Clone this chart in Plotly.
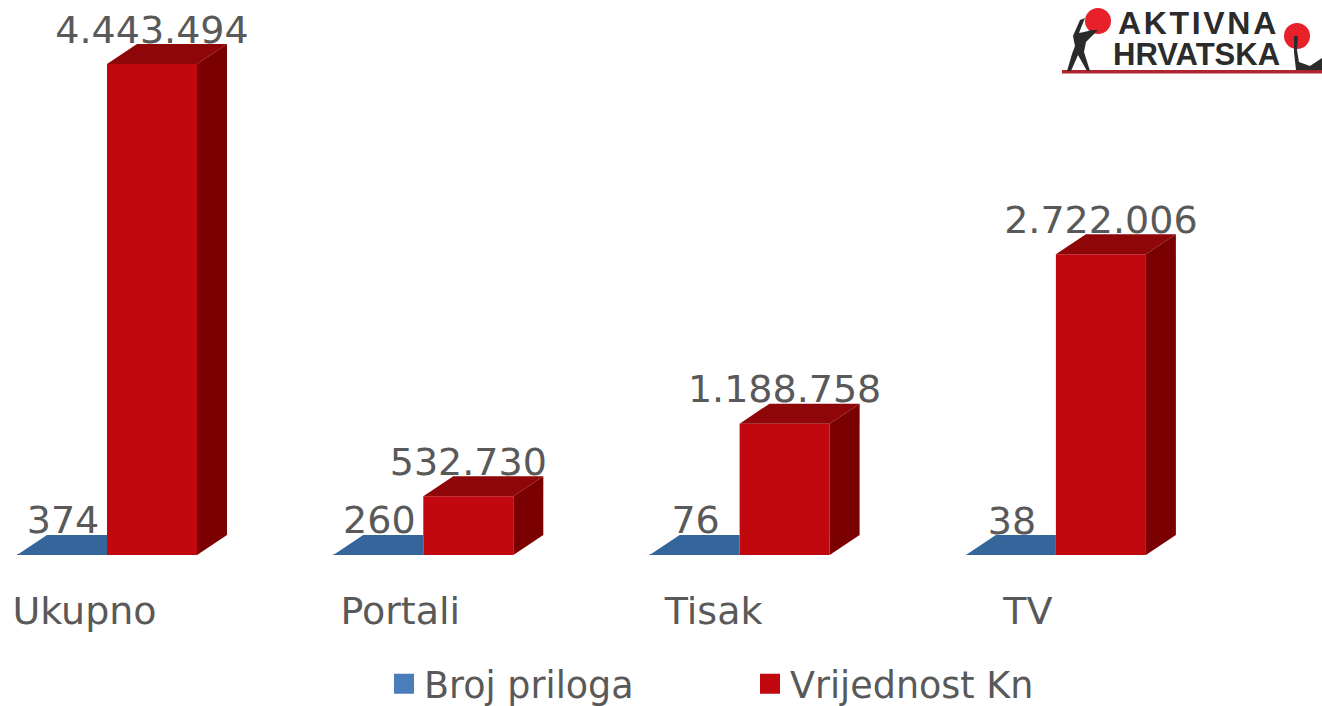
import plotly.graph_objects as go

# ---- data ----
categories = ["Ukupno", "Portali", "Tisak", "TV"]
broj_priloga = [374, 260, 76, 38]
vrijednost_kn = [4443494, 532730, 1188758, 2722006]
broj_labels = ["374", "260", "76", "38"]
vrijednost_labels = ["4.443.494", "532.730", "1.188.758", "2.722.006"]
series_names = ["Broj priloga", "Vrijednost Kn"]

# ---- geometry / style ----
W, H = 1322, 706
BASE_PX = 555
PX_PER_CAT = 316.3
FIRST_PX = 107
PX_PER_UNIT = 110.5 / 1e6
BAR_PX = 90
DEPTH_X_PX, DEPTH_Y_PX = 30, 20
LABEL_PX = 31
TICK_SHIFT_PX = [-22.5, -23, -26, -28]
TEXT = "#595959"
FONT = "DejaVu Sans"

ux = 1 / PX_PER_CAT
uy = 1 / PX_PER_UNIT
bw = BAR_PX * ux
dx = DEPTH_X_PX * ux
dy = DEPTH_Y_PX * uy
idx = list(range(len(categories)))

fig = go.Figure()

# front faces
fig.add_bar(x=idx, y=broj_priloga, width=bw, offset=-bw, marker=dict(color="#3A6CA5", line_width=0),
            showlegend=False, hoverinfo="skip")
fig.add_bar(x=idx, y=vrijednost_kn, width=bw, offset=0, marker=dict(color="#C0080E", line_width=0),
            showlegend=False, hoverinfo="skip")


def poly(xs, ys, color):
    fig.add_scatter(x=xs, y=ys, fill="toself", fillcolor=color, mode="lines", line=dict(width=0, color=color),
                    showlegend=False, hoverinfo="skip")


for i, (b, v) in enumerate(zip(broj_priloga, vrijednost_kn)):
    # blue top (hidden behind the red bar on the right)
    poly([i - bw, i - bw + dx, i, i, i - bw], [b, b + dy, b + dy, b, b], "#34659B")
    # red top
    poly([i, i + dx, i + bw + dx, i + bw, i], [v, v + dy, v + dy, v, v], "#8F0608")
    # red side
    poly([i + bw, i + bw + dx, i + bw + dx, i + bw, i + bw], [0, dy, v + dy, v, 0], "#7A0002")

# data labels
fig.add_scatter(x=[i - bw / 2 + 1 * ux for i in idx], y=[b + LABEL_PX * uy for b in broj_priloga],
                text=broj_labels, mode="text", textposition="middle center",
                textfont=dict(family=FONT, size=38, color=TEXT), showlegend=False, hoverinfo="skip")
fig.add_scatter(x=[i + bw / 2 for i in idx], y=[v + LABEL_PX * uy for v in vrijednost_kn],
                text=vrijednost_labels, mode="text", textposition="middle center",
                textfont=dict(family=FONT, size=38, color=TEXT), showlegend=False, hoverinfo="skip")

# legend entries
for name, color in zip(series_names, ["#4A7EBB", "#C0080E"]):
    fig.add_scatter(x=[None], y=[None], name=name, mode="markers",
                    marker=dict(symbol="square", size=16, color=color, line=dict(width=4, color=color)))


def px(x):
    return x / W


def py(y):
    return (BASE_PX - y) / BASE_PX


def path(points, color):
    d = "M" + " L".join(f"{px(a):.5f},{py(b):.5f}" for a, b in points) + " Z"
    return dict(type="path", xref="paper", yref="paper", path=d, fillcolor=color, line_width=0, layer="above")


def circle(cx, cy, r, color):
    return dict(type="circle", xref="paper", yref="paper", x0=px(cx - r), x1=px(cx + r), y0=py(cy + r),
                y1=py(cy - r), fillcolor=color, line_width=0, layer="above")


LOGO = "#2B2B2B"
shapes = [
    # red rule
    dict(type="rect", xref="paper", yref="paper", x0=px(1062), x1=1, y0=py(73.5), y1=py(70),
         fillcolor="#B0242E", line_width=0, layer="above"),
    circle(1098, 21, 13, "#E8202A"),
    circle(1297, 36, 13, "#E8202A"),
    # left figure
    path([(1067, 71), (1072, 54), (1075, 46), (1073, 36), (1080, 20), (1085, 18), (1079, 33), (1084, 32),
          (1092, 30), (1098, 30), (1091, 37), (1086, 42), (1084, 52), (1090, 71), (1087, 71), (1078, 55),
          (1071, 71)], LOGO),
    # right figure
    path([(1294, 36), (1298, 36), (1297, 50), (1299, 62), (1310, 66), (1322, 58), (1322, 70), (1296, 70),
          (1294, 52)], LOGO),
]

annotations = [
    dict(text="<b>A\u200aK\u200aT\u200aI\u200aV\u200aN\u200aA</b>", xref="paper", yref="paper", x=px(1197), y=py(23),
         showarrow=False, xanchor="center", yanchor="middle",
         font=dict(family="Liberation Sans", size=32, color=LOGO)),
    dict(text="<b>HRVATSKA</b>", xref="paper", yref="paper", x=px(1196), y=py(54),
         showarrow=False, xanchor="center", yanchor="middle",
         font=dict(family="Liberation Sans", size=31, color=LOGO)),
]

fig.update_layout(
    width=W, height=H,
    margin=dict(l=0, r=0, t=0, b=H - BASE_PX, pad=0, autoexpand=False),
    paper_bgcolor="white", plot_bgcolor="white",
    barmode="overlay",
    showlegend=True,
    legend=dict(orientation="h", x=px(384), y=py(684), xanchor="left", yanchor="middle",
                font=dict(family=FONT, size=36.5, color=TEXT), entrywidth=321, entrywidthmode="pixels",
                bgcolor="rgba(0,0,0,0)", itemclick=False, itemdoubleclick=False),
    shapes=shapes, annotations=annotations,
    xaxis=dict(range=[-FIRST_PX * ux, (W - FIRST_PX) * ux], showgrid=False, zeroline=False, showline=False,
               tickmode="array", tickvals=[i + s * ux for i, s in zip(idx, TICK_SHIFT_PX)], ticktext=categories,
               ticks="", tickfont=dict(family=FONT, size=38, color=TEXT), ticklabelstandoff=30),
    yaxis=dict(range=[0, BASE_PX * uy], visible=False),
)

fig.write_html("out.html", config=dict(displayModeBar=False),
               post_script="document.body.style.margin='0';document.body.style.overflow='hidden';")
